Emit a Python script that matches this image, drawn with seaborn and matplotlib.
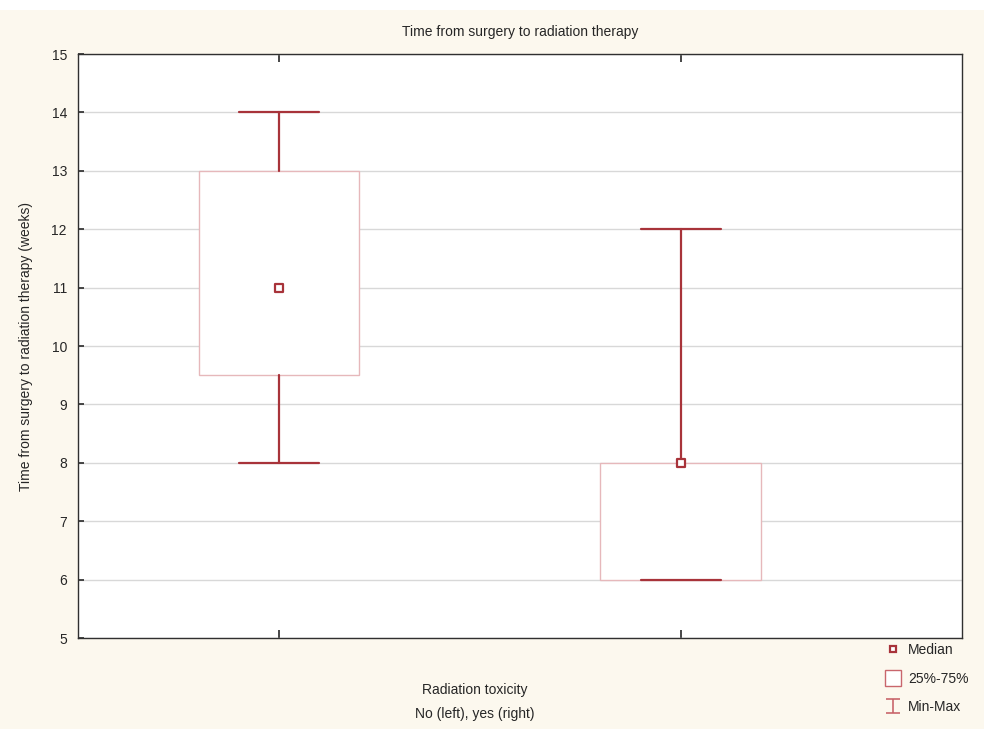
import numpy as np
import pandas as pd
import seaborn as sns
import matplotlib.pyplot as plt
from matplotlib.lines import Line2D
from matplotlib.path import Path
from matplotlib.patches import Rectangle

# Summary values (weeks)
groups = ['No', 'Yes']
mins = [8, 6]
q1s = [9.5, 6]
medians = [11, 8]
q3s = [13, 8]
maxs = [14, 12]

sns.set_theme(style='white')
plt.rcParams['font.family'] = ['Liberation Sans', 'DejaVu Sans']

bg = '#fcf8ee'
dark = '#a8333a'
light = '#e6b8bb'

fig = plt.figure(figsize=(9.84, 7.29), dpi=100, facecolor=bg)
fig.patches.append(Rectangle((0, 0.986), 1, 0.014, transform=fig.transFigure,
                             facecolor='white', edgecolor='none', zorder=-1))
ax = fig.add_axes([0.0793, 0.1248, 0.8984, 0.8011])
ax.set_facecolor('white')

stats = []
for g, lo, a, m, b, hi in zip(groups, mins, q1s, medians, q3s, maxs):
    stats.append({'label': g, 'whislo': lo, 'q1': a, 'med': m, 'q3': b, 'whishi': hi})

ax.bxp(stats, positions=[0, 1], widths=0.4, showfliers=False, patch_artist=True,
       boxprops=dict(facecolor='white', edgecolor=light, linewidth=1.0),
       whiskerprops=dict(color=dark, linewidth=1.6),
       capprops=dict(color=dark, linewidth=1.6),
       medianprops=dict(linewidth=0),
       capwidths=0.2, zorder=3)

df = pd.DataFrame({'pos': [0, 1], 'median': medians})
sns.scatterplot(data=df, x='pos', y='median', marker='s', s=40, facecolor='white',
                edgecolor=dark, linewidth=1.6, ax=ax, zorder=5)

ax.set_xlim(-0.5, 1.7)
ax.set_ylim(5, 15)
ax.set_yticks(range(5, 16))
ax.set_xticks([0, 1])
ax.set_xticklabels([])
ax.yaxis.grid(True, color='#d8d8d8', linewidth=1.0)
ax.set_axisbelow(True)
for s in ax.spines.values():
    s.set_color('#303030')
    s.set_linewidth(1.0)
ax.tick_params(axis='y', direction='in', length=4, color='#303030', labelsize=10,
               pad=8, left=True)
ax.tick_params(axis='x', direction='in', length=6, color='#303030', bottom=True, top=True)

ax.set_xlabel('')
ax.set_ylabel('Time from surgery to radiation therapy (weeks)', fontsize=10, labelpad=13)
ax.set_title('Time from surgery to radiation therapy', fontsize=10, pad=13)
fig.text(0.482, 0.054, 'Radiation toxicity', ha='center', va='center', fontsize=10)
fig.text(0.482, 0.021, 'No (left), yes (right)', ha='center', va='center', fontsize=10)

ibeam = Path([(-0.5, 0.5), (0.5, 0.5), (0, 0.5), (0, -0.5), (-0.5, -0.5), (0.5, -0.5)],
             [Path.MOVETO, Path.LINETO, Path.MOVETO, Path.LINETO, Path.MOVETO, Path.LINETO])
handles = [
    Line2D([], [], marker='s', linestyle='none', markersize=5, markerfacecolor='white',
           markeredgecolor=dark, markeredgewidth=1.6),
    Line2D([], [], marker='s', linestyle='none', markersize=12, markerfacecolor='white',
           markeredgecolor='#c9666c', markeredgewidth=1.0),
    Line2D([], [], marker=ibeam, linestyle='none', markersize=10,
           markeredgecolor='#c9666c', markeredgewidth=1.2),
]
fig.legend(handles, ['Median', '25%-75%', 'Min-Max'], loc='upper left',
           bbox_to_anchor=(0.886, 0.135), frameon=False, fontsize=10,
           handletextpad=0.5, labelspacing=1.05, handlelength=1.2)

fig.savefig('out.png', dpi=100, facecolor=bg)
